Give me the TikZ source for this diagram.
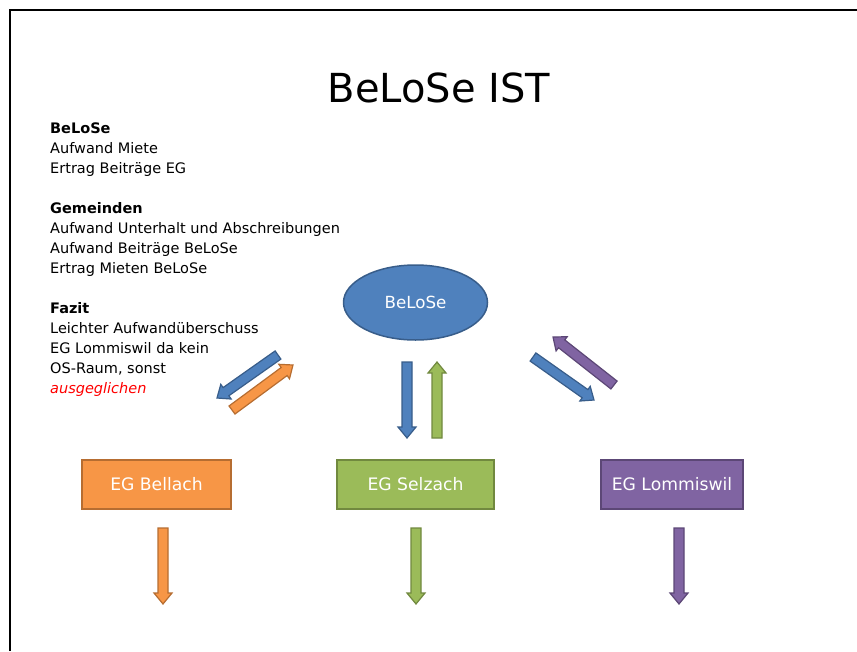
\documentclass[tikz,border=0pt]{standalone}
\usepackage{fontspec}
\setmainfont{DejaVu Sans}
\usetikzlibrary{calc,shapes.geometric}

\definecolor{seblue}{HTML}{4F81BD}
\definecolor{sebluel}{HTML}{385D8A}
\definecolor{seorange}{HTML}{F79646}
\definecolor{seorangel}{HTML}{B66D31}
\definecolor{segreen}{HTML}{9BBB59}
\definecolor{segreenl}{HTML}{71893F}
\definecolor{sepurple}{HTML}{8064A2}
\definecolor{sepurplel}{HTML}{5C4776}

% block arrow from #1 to #2, fill #3, border #4
\newcommand{\fatarrow}[4]{%
  \coordinate (#1-h) at ($(#2)!11pt!(#1)$);
  \filldraw[fill=#3, draw=#4, line width=1.2pt]
    ($(#1)!5pt!90:(#2)$) -- ($(#1-h)!5pt!-90:(#1)$) -- ($(#1-h)!9pt!-90:(#1)$)
    -- (#2) -- ($(#1-h)!9pt!90:(#1)$) -- ($(#1-h)!5pt!90:(#1)$)
    -- ($(#1)!5pt!-90:(#2)$) -- cycle;
}

\begin{document}
\begin{tikzpicture}[x=1pt,y=-1pt,
  box/.style={draw, line width=1.5pt, minimum height=49pt, inner sep=0pt,
    text=white, font=\fontsize{17.2}{20}\selectfont}]
\useasboundingbox (0,0) rectangle (857,651);
\draw[line width=2.5pt] (10,651) -- (10,10) -- (857,10);

\node[anchor=base, inner sep=0pt, font=\fontsize{40}{48}\selectfont] (title) at (439,102) {BeLoSe IST};
\node[anchor=north west, align=left, inner sep=0pt, font=\fontsize{14.5}{20}\selectfont] (notes) at (50,123)
  {\textbf{BeLoSe}\\Aufwand Miete\\Ertrag Beiträge EG\\[20pt]
   \textbf{Gemeinden}\\Aufwand Unterhalt und Abschreibungen\\Aufwand Beiträge BeLoSe\\Ertrag Mieten BeLoSe\\[20pt]
   \textbf{Fazit}\\Leichter Aufwandüberschuss\\EG Lommiswil da kein\\OS-Raum, sonst\\
   \textcolor{red}{\itshape ausgeglichen}};

\node[ellipse, draw=sebluel, fill=seblue, line width=1.5pt, minimum width=144pt, minimum height=75pt,
  text=white, font=\fontsize{16.7}{20}\selectfont] (belose) at (415.5,302.5) {BeLoSe};

\node[box, fill=seorange, draw=seorangel, minimum width=149pt] (bellach) at (156.5,484.5) {EG Bellach};
\node[box, fill=segreen, draw=segreenl, minimum width=157pt] (selzach) at (415.5,484.5) {EG Selzach};
\node[box, fill=sepurple, draw=sepurplel, minimum width=142pt] (lommiswil) at (672,484.5) {EG Lommiswil};

% arrow ends
\foreach \n/\x/\y in {bl1/278/355, bl2/217/398, or1/232/410, or2/293/365,
  bd1/407/362, bd2/407/438, gu1/437/438, gu2/437/362,
  br1/533/357, br2/594/400, pu1/614/385, pu2/553/337,
  ob1/163/528, ob2/163/604, gb1/416/528, gb2/416/604, pb1/679/528, pb2/679/604}
  \coordinate (\n) at (\x,\y);

\foreach \a/\b/\f/\d in {bl1/bl2/seblue/sebluel, or1/or2/seorange/seorangel,
  bd1/bd2/seblue/sebluel, gu1/gu2/segreen/segreenl,
  br1/br2/seblue/sebluel, pu1/pu2/sepurple/sepurplel,
  ob1/ob2/seorange/seorangel, gb1/gb2/segreen/segreenl, pb1/pb2/sepurple/sepurplel}
  {\fatarrow{\a}{\b}{\f}{\d}}
\end{tikzpicture}
\end{document}
